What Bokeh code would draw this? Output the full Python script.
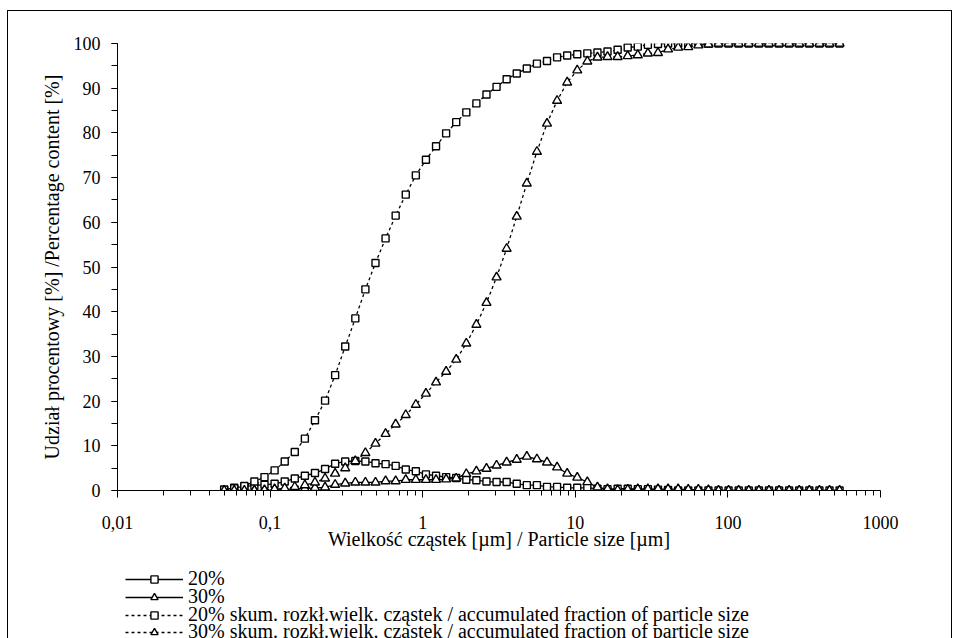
from bokeh.plotting import figure
from bokeh.layouts import column
from bokeh.models import (Range1d, FixedTicker, SingleIntervalTicker, Legend, LegendItem,
                          ColumnDataSource)
from bokeh.embed import file_html
from bokeh.resources import INLINE

# ---------------- data ----------------
particle_size = [0.050, 0.0582, 0.0678, 0.0789, 0.0919, 0.107, 0.1247, 0.1451, 0.169, 0.1968,
                 0.2292, 0.2668, 0.3107, 0.3618, 0.4212, 0.4905, 0.5711, 0.665, 0.7744, 0.9017,
                 1.050, 1.223, 1.424, 1.658, 1.931, 2.248, 2.618, 3.048, 3.549, 4.133,
                 4.812, 5.604, 6.525, 7.598, 8.848, 10.30, 11.99, 13.97, 16.26, 18.94,
                 22.05, 25.67, 29.90, 34.82, 40.54, 47.21, 54.97, 64.0, 74.53, 86.79,
                 101.0, 117.7, 137.0, 159.6, 185.8, 216.4, 251.9, 293.4, 341.6, 397.8,
                 463.2, 539.4]

dist_20 = [0.2, 0.6, 0.9, 1.1, 1.3, 1.5, 2.0, 2.7, 3.3, 3.9,
           4.8, 6.0, 6.5, 6.6, 6.5, 6.1, 5.9, 5.5, 4.7, 4.3,
           3.6, 3.3, 3.0, 2.8, 2.4, 2.3, 2.0, 1.9, 1.9, 1.5,
           1.2, 1.2, 0.8, 0.8, 0.6, 0.6, 0.6, 0.4, 0.3, 0.4,
           0.4, 0.3, 0.3, 0.2, 0.1, 0, 0, 0, 0, 0,
           0, 0, 0, 0, 0, 0, 0, 0, 0, 0,
           0, 0]

dist_30 = [0, 0, 0, 0, 0, 0.1, 0.2, 0.4, 0.4, 0.6,
           0.7, 1.3, 1.6, 1.8, 1.8, 1.8, 2.1, 2.1, 2.4, 2.4,
           2.4, 2.4, 2.5, 2.7, 3.7, 4.3, 4.9, 5.6, 6.3, 6.9,
           7.6, 7.0, 6.3, 5.2, 3.8, 2.9, 1.9, 0.7, 0.3, 0.1,
           0.2, 0.3, 0.3, 0.3, 0.3, 0.3, 0.2, 0.2, 0.1, 0,
           0, 0, 0, 0, 0, 0, 0, 0, 0, 0,
           0, 0]

cum_20 = [0.2, 0.5, 1.0, 2.0, 3.0, 4.5, 6.5, 8.6, 11.6, 15.7,
          20.1, 25.8, 32.2, 38.5, 45.0, 50.9, 56.4, 61.5, 66.2, 70.5,
          74.0, 77.0, 79.9, 82.4, 84.6, 86.6, 88.6, 90.3, 92.0, 93.3,
          94.4, 95.5, 96.1, 96.9, 97.3, 97.6, 97.8, 98.0, 98.2, 98.6,
          99.1, 99.3, 99.7, 99.9, 100, 100, 100, 100, 100, 100,
          100, 100, 100, 100, 100, 100, 100, 100, 100, 100,
          100, 100]

cum_30 = [0, 0, 0, 0, 0.1, 0.3, 0.5, 0.8, 1.2, 1.8,
          2.7, 3.8, 5.0, 6.6, 8.4, 10.5, 12.7, 14.8, 16.9, 19.2,
          21.7, 24.2, 26.6, 29.3, 32.9, 37.1, 42.0, 47.7, 54.1, 61.3,
          68.7, 75.8, 82.1, 87.2, 91.3, 94.0, 96.0, 96.9, 97.0, 97.0,
          97.2, 97.4, 97.8, 97.9, 98.7, 99.1, 99.2, 99.6, 99.8, 100,
          100, 100, 100, 100, 100, 100, 100, 100, 100, 100,
          100, 100]

series_labels = ["20%", "30%",
                 "20% skum. rozkł.wielk. cząstek / accumulated fraction of particle size",
                 "30% skum. rozkł.wielk. cząstek / accumulated fraction of particle size"]

x_tick_values = [0.01, 0.1, 1.0, 10.0, 100.0, 1000.0]
x_tick_labels = ["0,01", "0,1", "1", "10", "100", "1000"]
x_minor_ticks = [m * 10.0 ** e for e in range(-2, 3) for m in range(2, 10)]

x_title = "Wielkość cząstek [µm] / Particle size [µm]"
y_title = "Udział procentowy [%] /Percentage content [%]"

FONT = "Liberation Serif"

# series styles: (column, marker, dash, marker size)
specs = [("d20", "square", None, 7), ("d30", "triangle", None, 9),
         ("c20", "square", "3 3", 7), ("c30", "triangle", "3 3", 9)]

# ---------------- main chart ----------------
p = figure(width=943, height=546, x_axis_type="log",
           x_range=Range1d(0.01, 1000), y_range=Range1d(0, 100),
           output_backend="svg", toolbar_location=None,
           min_border_left=109, min_border_right=71, min_border_top=32, min_border_bottom=67)
p.grid.visible = False
p.outline_line_color = None
p.background_fill_color = "white"
p.border_fill_color = "white"

xa = p.xaxis[0]
ya = p.yaxis[0]
xa.ticker = FixedTicker(ticks=x_tick_values, minor_ticks=x_minor_ticks)
xa.major_label_overrides = dict(zip(x_tick_values, x_tick_labels))
ya.ticker = SingleIntervalTicker(interval=10, num_minor_ticks=2)

for ax in (xa, ya):
    ax.axis_line_color = "black"
    ax.axis_line_width = 1
    ax.major_tick_line_color = "black"
    ax.minor_tick_line_color = "black"
    ax.major_tick_in = 0
    ax.minor_tick_in = 0
    ax.major_label_text_font = FONT
    ax.major_label_text_font_size = "18px"
    ax.major_label_text_color = "black"
    ax.axis_label_text_font = FONT
    ax.axis_label_text_font_size = "20px"
    ax.axis_label_text_font_style = "normal"
    ax.axis_label_text_color = "black"

xa.major_tick_out = 7
xa.minor_tick_out = 5
xa.major_label_standoff = 18
xa.axis_label = x_title
xa.axis_label_standoff = -4

ya.major_tick_out = 6
ya.minor_tick_out = 6
ya.major_label_standoff = 11
ya.axis_label = y_title
ya.axis_label_standoff = 8

src = ColumnDataSource(dict(x=particle_size, d20=dist_20, d30=dist_30, c20=cum_20, c30=cum_30))

for col, marker, dash, size in specs:
    if dash is None:
        p.line("x", col, source=src, line_color="black", line_width=1.3)
    else:
        p.line("x", col, source=src, line_color="black", line_width=1.3, line_dash=dash)
    p.scatter("x", col, source=src, marker=marker, size=size,
              line_color="black", line_width=1.4, fill_color="white")

# ---------------- legend strip below the chart ----------------
q = figure(width=943, height=81, x_range=Range1d(0, 1), y_range=Range1d(0, 1),
           output_backend="svg", toolbar_location=None,
           x_axis_location=None, y_axis_location=None,
           min_border_left=0, min_border_right=0, min_border_top=0, min_border_bottom=0)
q.grid.visible = False
q.outline_line_color = None
q.background_fill_color = "white"
q.border_fill_color = "white"

# one off-screen point per sample renderer so the legend can draw its glyphs
offscreen = ColumnDataSource(dict(x=[-10.0], y=[-10.0]))
row_bottoms = [48, 30, 12, -5]
for (col, marker, dash, size), lab, yb in zip(specs, series_labels, row_bottoms):
    if dash is None:
        ln = q.line("x", "y", source=offscreen, line_color="black", line_width=1.3)
    else:
        ln = q.line("x", "y", source=offscreen, line_color="black", line_width=1.3, line_dash=dash)
    sc = q.scatter("x", "y", source=offscreen, marker=marker, size=size,
                   line_color="black", line_width=1.4, fill_color="white")
    leg = Legend(items=[LegendItem(label=lab, renderers=[ln, sc])], location=(8, yb),
                 orientation="vertical", glyph_width=58, glyph_height=18, label_height=18,
                 label_standoff=5, padding=0, margin=0, spacing=0,
                 border_line_color=None, background_fill_alpha=0,
                 label_text_font=FONT, label_text_font_size="20px", label_text_color="black")
    q.add_layout(leg)

layout = column(p, q, spacing=0)
layout.margin = (11, 8, 0, 8)
layout.styles = {"outline": "1px solid black"}

open("out.html", "w").write(file_html(layout, INLINE))
